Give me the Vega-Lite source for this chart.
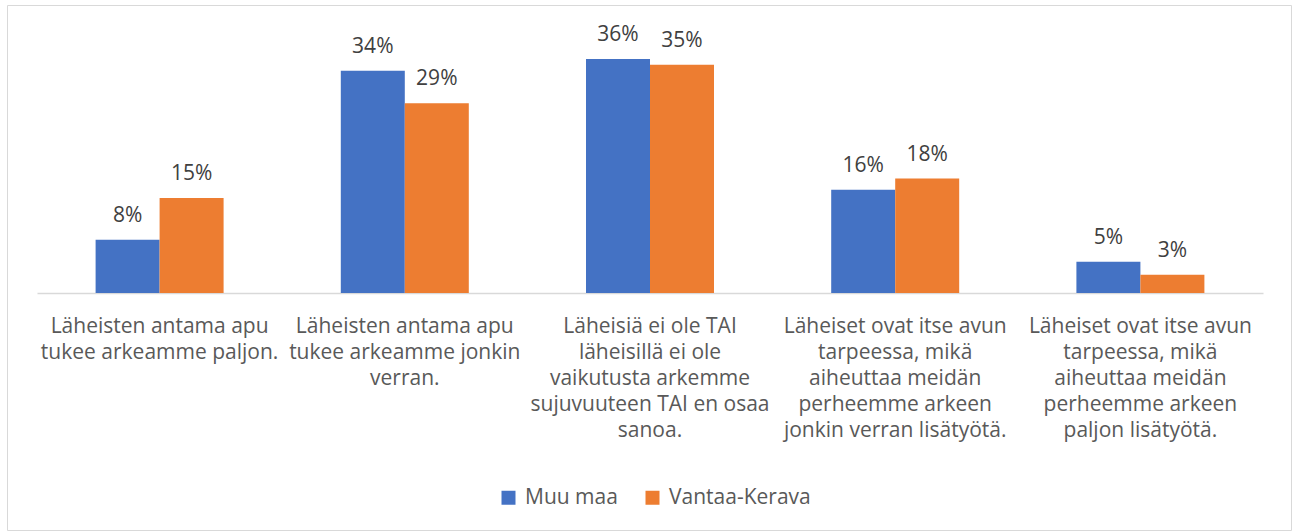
{
  "$schema": "https://vega.github.io/schema/vega-lite/v6.json",
  "width": 1284,
  "height": 525,
  "autosize": "none",
  "padding": {"left": 7, "top": 5, "right": 2, "bottom": 2},
  "background": "white",
  "config": {
    "view": {"stroke": "#d9d9d9", "strokeWidth": 1},
    "font": "Open Sans"
  },
  "data": {
    "values": [
      {"kategoria": "Läheisten antama apu|tukee arkeamme paljon.", "ryhma": "Muu maa", "osuus": 0.082},
      {"kategoria": "Läheisten antama apu|tukee arkeamme paljon.", "ryhma": "Vantaa-Kerava", "osuus": 0.146},
      {"kategoria": "Läheisten antama apu|tukee arkeamme jonkin|verran.", "ryhma": "Muu maa", "osuus": 0.342},
      {"kategoria": "Läheisten antama apu|tukee arkeamme jonkin|verran.", "ryhma": "Vantaa-Kerava", "osuus": 0.292},
      {"kategoria": "Läheisiä ei ole TAI|läheisillä ei ole|vaikutusta arkemme|sujuvuuteen TAI en osaa|sanoa.", "ryhma": "Muu maa", "osuus": 0.36},
      {"kategoria": "Läheisiä ei ole TAI|läheisillä ei ole|vaikutusta arkemme|sujuvuuteen TAI en osaa|sanoa.", "ryhma": "Vantaa-Kerava", "osuus": 0.351},
      {"kategoria": "Läheiset ovat itse avun|tarpeessa, mikä|aiheuttaa meidän|perheemme arkeen|jonkin verran lisätyötä.", "ryhma": "Muu maa", "osuus": 0.159},
      {"kategoria": "Läheiset ovat itse avun|tarpeessa, mikä|aiheuttaa meidän|perheemme arkeen|jonkin verran lisätyötä.", "ryhma": "Vantaa-Kerava", "osuus": 0.176},
      {"kategoria": "Läheiset ovat itse avun|tarpeessa, mikä|aiheuttaa meidän|perheemme arkeen|paljon lisätyötä.", "ryhma": "Muu maa", "osuus": 0.048},
      {"kategoria": "Läheiset ovat itse avun|tarpeessa, mikä|aiheuttaa meidän|perheemme arkeen|paljon lisätyötä.", "ryhma": "Vantaa-Kerava", "osuus": 0.028}
    ]
  },
  "encoding": {
    "x": {
      "field": "kategoria",
      "type": "nominal",
      "sort": null,
      "scale": {"range": [30, 1256], "paddingInner": 0.478, "paddingOuter": 0.239},
      "axis": {
        "title": null,
        "orient": "bottom",
        "offset": -237,
        "labelAngle": 0,
        "labelExpr": "split(datum.value, '|')",
        "labelFontSize": 21,
        "labelLineHeight": 26,
        "labelColor": "#595959",
        "labelPadding": 22,
        "labelLimit": 0,
        "ticks": false,
        "domainColor": "#d9d9d9",
        "domainWidth": 1.5
      }
    },
    "xOffset": {"field": "ryhma", "type": "nominal", "sort": ["Muu maa", "Vantaa-Kerava"]},
    "y": {
      "field": "osuus",
      "type": "quantitative",
      "scale": {"domain": [0, 0.4], "range": [288, 28], "nice": false, "zero": true},
      "axis": null
    }
  },
  "layer": [
    {
      "mark": {"type": "bar"},
      "encoding": {
        "color": {
          "field": "ryhma",
          "type": "nominal",
          "sort": ["Muu maa", "Vantaa-Kerava"],
          "scale": {"domain": ["Muu maa", "Vantaa-Kerava"], "range": ["#4472C4", "#ED7D31"]},
          "legend": {
            "title": null,
            "orient": "none",
            "direction": "horizontal",
            "legendX": 491,
            "legendY": 482,
            "symbolType": "square",
            "symbolSize": 196,
            "symbolStrokeWidth": 0,
            "labelFontSize": 21,
            "labelColor": "#595959",
            "labelOffset": 6,
            "columnPadding": 24,
            "padding": 0
          }
        }
      }
    },
    {
      "mark": {"type": "text", "baseline": "alphabetic", "dy": -18, "fontSize": 21, "color": "#404040"},
      "encoding": {
        "text": {"field": "osuus", "type": "quantitative", "format": ".0%"}
      }
    }
  ]
}
